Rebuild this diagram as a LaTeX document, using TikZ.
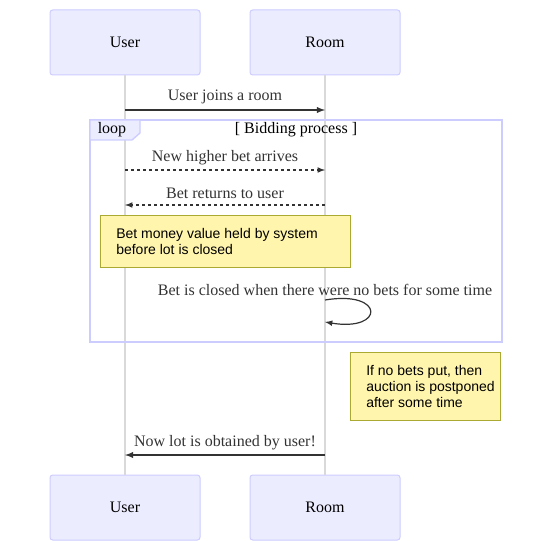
\documentclass[tikz,border=0pt]{standalone}
\usepackage{fontspec}
\setmainfont{Liberation Serif}
\setsansfont{Liberation Sans}
\usetikzlibrary{arrows,positioning}

\definecolor{actorfill}{HTML}{ECECFF}
\definecolor{actorline}{HTML}{CCCCFF}
\definecolor{notefill}{HTML}{FFF5AD}
\definecolor{noteline}{HTML}{AAAA33}
\definecolor{lifeline}{HTML}{D9D9D9}
\definecolor{msgcol}{HTML}{333333}

\begin{document}
\begin{tikzpicture}[x=0.75pt, y=-0.75pt, >=latex]

% Define styles
\tikzstyle{actor} = [rectangle, draw=actorline, fill=actorfill, line width=0.75pt, rounded corners=2pt, minimum width=112.5pt, minimum height=48.75pt, font=\fontsize{12}{14}\selectfont]
\tikzstyle{note} = [rectangle, draw=noteline, fill=notefill, line width=0.75pt]
\tikzstyle{notetext} = [align=left, inner sep=0pt, font=\sffamily\fontsize{10.5}{12}\selectfont]
\tikzstyle{msglabel} = [text=msgcol, inner sep=0pt, font=\fontsize{12}{14}\selectfont]
\tikzstyle{msg} = [draw=msgcol, line width=1.1pt, ->]
\tikzstyle{reply} = [draw=msgcol, line width=0.9pt, dash pattern=on 2.25pt off 2.25pt, ->]
\tikzstyle{life} = [draw=lifeline, line width=1.1pt]

\useasboundingbox (0,0) rectangle (552,541);

% Actors
\node [actor] (usertop) at (125,42.5) {User};
\node [actor] (roomtop) at (325,42.5) {Room};
\node [actor] (userbot) at (125,507.5) {User};
\node [actor] (roombot) at (325,507.5) {Room};

% Lifelines
\draw [life] (usertop.south) -- (userbot.north);
\draw [life] (roomtop.south) -- (roombot.north);

% Message points on the lifelines
\coordinate (u1) at (125,110); \coordinate (r1) at (325,110);
\coordinate (u2) at (125,170); \coordinate (r2) at (325,170);
\coordinate (u3) at (125,205); \coordinate (r3) at (325,205);
\coordinate (r4) at (325,300); \coordinate (r5) at (325,322);
\coordinate (u6) at (125,455); \coordinate (r6) at (325,455);

% Loop frame
\draw [draw=actorline, line width=1.4pt] (90,120) rectangle (502,342);
\draw [draw=actorline, fill=actorfill, line width=1pt] (90,120) -- (140,120) -- (140,133) -- (132,140) -- (90,140) -- cycle;
\node [msglabel, text=black] (looplbl) at (112,130) {loop};
\node [msglabel, text=black] (loopcond) at (296,130) {[ Bidding process ]};

% Messages
\draw [msg] (u1) -- (r1);
\node [msglabel] (m1) at (225,97) {User joins a room};
\draw [reply] (u2) -- (r2);
\node [msglabel] (m2) at (225,158) {New higher bet arrives};
\draw [reply] (r3) -- (u3);
\node [msglabel] (m3) at (225,193) {Bet returns to user};

% Notes
\node [note, minimum width=187.5pt, minimum height=39pt, anchor=north west] (note1) at (100,215) {};
\node [notetext, anchor=west] (note1txt) at ([xshift=12pt]note1.west) {Bet money value held by system\\before lot is closed};

\node [msglabel] (m4) at (325,290) {Bet is closed when there were no bets for some time};
\draw [msg, line width=0.9pt] (r4) .. controls (385,290) and (385,332) .. (r5);

\node [note, minimum width=112.5pt, minimum height=51pt, anchor=north west] (note2) at (350,352) {};
\node [notetext, anchor=west] (note2txt) at ([xshift=12pt]note2.west) {If no bets put, then\\auction is postponed\\after some time};

\draw [msg] (r6) -- (u6);
\node [msglabel] (m5) at (225,443) {Now lot is obtained by user!};

\end{tikzpicture}
\end{document}
